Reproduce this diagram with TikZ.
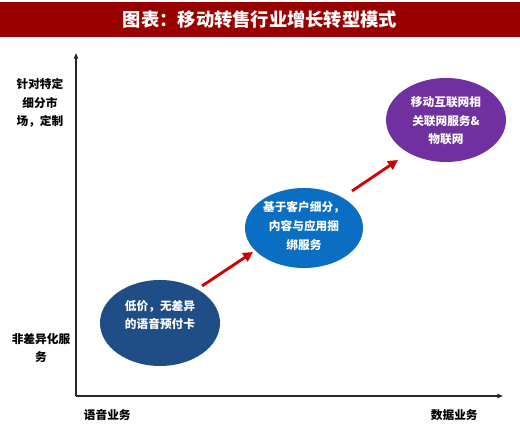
\documentclass[tikz,border=0pt]{standalone}
\usepackage{fontspec}
\setmainfont{Noto Sans CJK SC}
\usetikzlibrary{arrows.meta}
\definecolor{titlered}{HTML}{990000}
\definecolor{darkblue}{HTML}{1F4E87}
\definecolor{midblue}{HTML}{0A6FC2}
\definecolor{violet}{HTML}{7030A0}
\definecolor{arrowred}{HTML}{D00000}

\begin{document}
\begin{tikzpicture}[x=0.25mm, y=-0.25mm,
	every node/.style={font=\bfseries\fontsize{8.3}{13.2}\selectfont, align=center},
	axis/.style={line width=0.9pt, black!85, -{Triangle[length=4pt, width=3pt]}},
	step arrow/.style={line width=2pt, arrowred, -{Triangle[length=7pt, width=7pt]}}]
	\useasboundingbox (0,0) rectangle (520,440);
	\fill[titlered] (0,2) rectangle (520,37);
	\node[text=white, font=\bfseries\fontsize{13}{15}\selectfont] (title) at (260,20) {图表：移动转售行业增长转型模式};
	% axes
	\coordinate (O) at (76,396);
	\coordinate (ytop) at (76,53);
	\coordinate (xend) at (503,396);
	\draw[axis] (O) -- (ytop);
	\draw[axis] (O) -- (xend);
	\node (yhigh) at (40,103) {针对特定\\细分市\\场，定制};
	\node (ylow) at (41,348) {非差异化服\\务};
	\node[anchor=west] (xlow) at (79,415) {语音业务};
	\node[anchor=west] (xhigh) at (426,415) {数据业务};
	% stages
	\fill[darkblue] (160,323) ellipse (60 and 43);
	\fill[midblue] (304,228) ellipse (59 and 40);
	\fill[violet] (446,120) ellipse (60 and 42);
	\node[text=white] (s1) at (160,315) {低价，无差异\\的语音预付卡};
	\node[text=white] (s2) at (304,226) {基于客户细分，\\内容与应用捆\\绑服务};
	\node[text=white] (s3) at (446,121) {移动互联网相\\关联网服务\&\\物联网};
	\coordinate (a1) at (202,286);
	\coordinate (b1) at (253,252);
	\coordinate (a2) at (352,191);
	\coordinate (b2) at (398,160);
	\draw[step arrow] (a1) -- (b1);
	\draw[step arrow] (a2) -- (b2);
\end{tikzpicture}
\end{document}
